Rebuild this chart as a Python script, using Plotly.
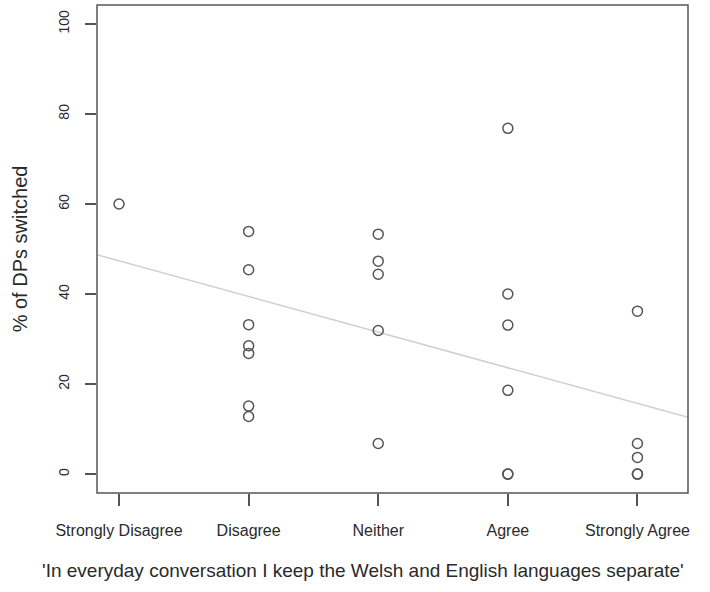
import plotly.graph_objects as go

categories = ["Strongly Disagree", "Disagree", "Neither", "Agree", "Strongly Agree"]
cat_pos = [1, 2, 3, 4, 5]

# points: (category position, % of DPs switched)
pt_x = [1,
        2, 2, 2, 2, 2, 2, 2,
        3, 3, 3, 3, 3,
        4, 4, 4, 4, 4, 4,
        5, 5, 5, 5, 5]
pt_y = [60.0,
        53.9, 45.4, 33.2, 28.5, 26.8, 15.1, 12.8,
        53.3, 47.3, 44.4, 31.9, 6.8,
        76.8, 40.0, 33.1, 18.6, 0.0, 0.0,
        36.2, 6.8, 3.7, 0.0, 0.0]

y_ticks = [0, 20, 40, 60, 80, 100]

x_title = "'In everyday conversation I keep the Welsh and English languages separate'"
y_title = "% of DPs switched"

# fitted line (as drawn)
fit_intercept = 55.3
fit_slope = -7.92

x_range = [0.83, 5.39]
y_range = [-4.2, 104.2]

line_x = x_range
line_y = [fit_intercept + fit_slope * v for v in line_x]

fig = go.Figure()
fig.add_trace(go.Scatter(x=line_x, y=line_y, mode="lines",
                         line=dict(color="#d0d0d0", width=1.5),
                         hoverinfo="skip", showlegend=False))
fig.add_trace(go.Scatter(x=pt_x, y=pt_y, mode="markers",
                         marker=dict(symbol="circle-open", size=10,
                                     color="#555555", line=dict(width=1.5, color="#555555")),
                         showlegend=False))

font_fam = "Liberation Sans, Arial, sans-serif"
fig.update_layout(
    width=710, height=592,
    margin=dict(l=97, r=22, t=5, b=99, autoexpand=False),
    paper_bgcolor="white", plot_bgcolor="white",
    font=dict(family=font_fam, color="#2a2a2a", size=14),
    xaxis=dict(range=x_range, tickmode="array", tickvals=cat_pos, ticktext=categories,
               showgrid=False, zeroline=False, showline=False, automargin=False,
               ticks="outside", ticklen=12, tickwidth=1.5, tickcolor="#555555",
               tickfont=dict(size=16), ticklabelstandoff=11),
    yaxis=dict(range=y_range, tickmode="array", tickvals=y_ticks,
               showgrid=False, zeroline=False, showline=False, automargin=False,
               ticks="outside", ticklen=11, tickwidth=1.5, tickcolor="#555555",
               tickangle=-90, tickfont=dict(size=14), ticklabelstandoff=10,
               title=dict(text=y_title, font=dict(size=20), standoff=23)),
    shapes=[dict(type="rect", xref="paper", yref="paper", x0=0, x1=1, y0=0, y1=1,
                 line=dict(color="#555555", width=1.5))],
    annotations=[dict(text=x_title, xref="paper", yref="paper", x=0.45, y=0,
                      xanchor="center", yanchor="middle", yshift=-77,
                      showarrow=False, font=dict(size=19, color="#2a2a2a"))],
)

fig.write_html("out.html", config={"displayModeBar": False})

# remove default browser page margin so the figure sits at the window's origin
with open("out.html", "r", encoding="utf-8") as f:
    html = f.read()
html = html.replace("<body>", '<body style="margin:0;padding:0;">', 1)
with open("out.html", "w", encoding="utf-8") as f:
    f.write(html)
